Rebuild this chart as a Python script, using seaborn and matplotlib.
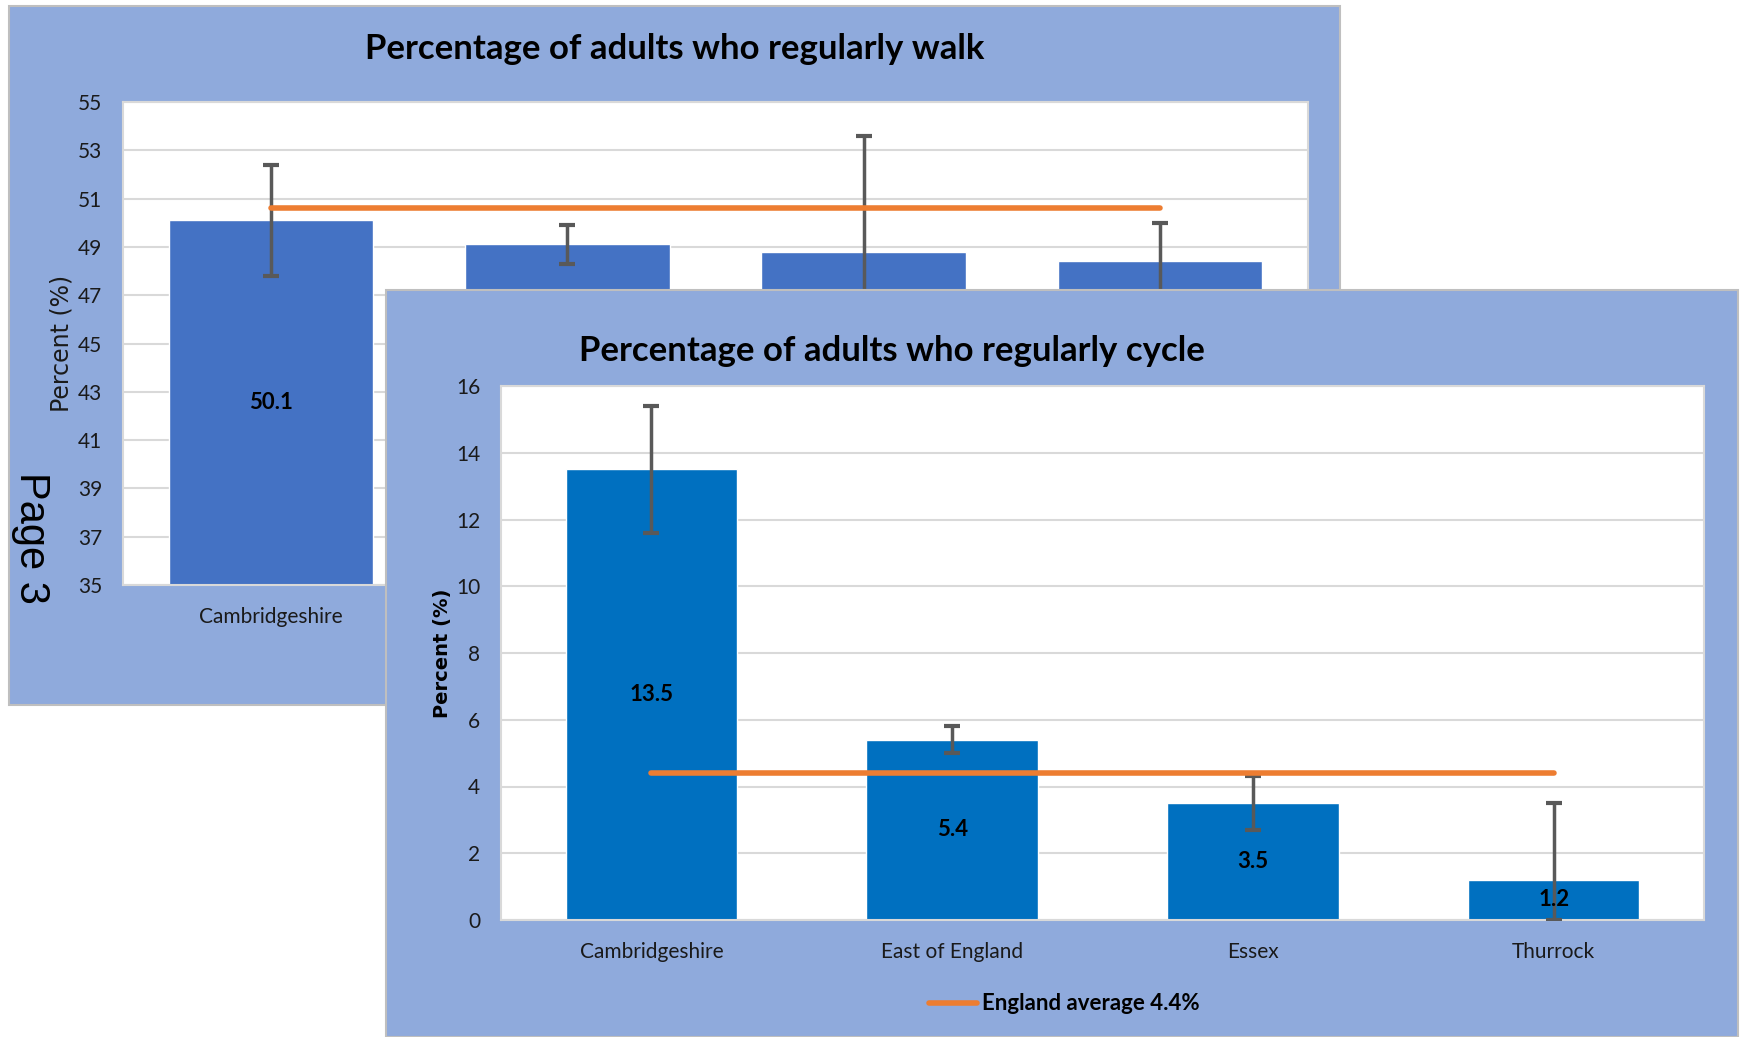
import matplotlib
matplotlib.use("Agg")
import matplotlib.pyplot as plt
import seaborn as sns
import numpy as np
from matplotlib.patches import Rectangle
from matplotlib.lines import Line2D

areas = ["Cambridgeshire", "East of England", "Essex", "Thurrock"]

# walking (back chart, mostly hidden)
walk_vals = [50.1, 49.1, 48.8, 48.4]
walk_lo = [47.8, 48.3, 44.0, 46.8]
walk_hi = [52.4, 49.9, 53.6, 50.0]
walk_avg = 50.6

# cycling (front chart)
cycle_vals = [13.5, 5.4, 3.5, 1.2]
cycle_lo = [11.6, 5.0, 2.7, 0.0]
cycle_hi = [15.4, 5.8, 4.3, 3.5]
cycle_avg = 4.4

W, H = 1741, 1037
panel_col = "#8FAADC"
grid_col = "#D9D9D9"
err_col = "#595959"
orange = "#ED7D31"

sns.set_theme(style="whitegrid")
plt.rcParams["font.family"] = ["Lato", "DejaVu Sans"]

fig = plt.figure(figsize=(W / 100, H / 100), dpi=100)
fig.patch.set_facecolor("white")


def fbox(x0, y0, x1, y1):
    # pixel box (top-left origin) -> figure fraction [l, b, w, h]
    return [x0 / W, 1 - y1 / H, (x1 - x0) / W, (y1 - y0) / H]


def draw_chart(ax, vals, lo, hi, avg, color, width):
    sns.barplot(x=areas, y=vals, color=color, saturation=1, width=width, ax=ax, zorder=2)
    pos = np.arange(len(areas))
    v = np.array(vals)
    yerr = [v - np.array(lo), np.array(hi) - v]
    ax.errorbar(pos, v, yerr=yerr, fmt="none", ecolor=err_col, elinewidth=2.5,
                capsize=6, capthick=3, zorder=3)
    ax.plot(pos, [avg] * len(pos), color=orange, lw=4, solid_capstyle="round", zorder=4)
    ax.set_xlim(-0.5, len(areas) - 0.5)
    ax.set_facecolor("white")
    ax.grid(axis="y", color=grid_col, lw=1.5)
    ax.grid(axis="x", visible=False)
    for s in ax.spines.values():
        s.set_color(grid_col)
        s.set_linewidth(1.5)
    ax.tick_params(axis="both", length=0, labelsize=15, colors="#1a1a1a")
    ax.tick_params(axis="y", pad=15)
    ax.tick_params(axis="x", pad=16)
    ax.set_xlabel("")


# back panel: walking
fig.add_artist(Rectangle((9 / W, 1 - 705 / H), (1340 - 9) / W, (705 - 6) / H,
                         transform=fig.transFigure, facecolor=panel_col,
                         edgecolor="#BFBFBF", lw=1.5, zorder=-1))
ax_w = fig.add_axes(fbox(123, 102, 1308, 585))
ax_w.set_zorder(0)
draw_chart(ax_w, walk_vals, walk_lo, walk_hi, walk_avg, "#4472C4", 0.69)
ax_w.set_ylim(35, 55)
ax_w.set_yticks(range(35, 56, 2))
ax_w.set_ylabel("Percent (%)", family="DejaVu Sans", fontsize=17, color="#1a1a1a")
ax_w.yaxis.set_label_coords(-0.042, 0.5)
for i, v in enumerate(walk_vals):
    ax_w.text(i, (35 + v) / 2, f"{v}", ha="center", va="center",
              fontsize=16, fontweight="bold", color="black", zorder=5)
fig.text(675 / W, 1 - 49 / H, "Percentage of adults who regularly walk",
         ha="center", va="center", fontsize=25, fontweight="bold", color="black")
fig.text(31 / W, 1 - 538 / H, "Page 3", rotation=-90, ha="center", va="center",
         family="Liberation Sans", fontsize=30, color="black", zorder=10)

# front panel: cycling
fig.add_artist(Rectangle((386 / W, 0), (1738 - 386) / W, (1037 - 290) / H,
                         transform=fig.transFigure, facecolor=panel_col,
                         edgecolor="#BFBFBF", lw=1.5, zorder=1))
ax_c = fig.add_axes(fbox(501, 386, 1704, 920))
ax_c.set_zorder(2)
draw_chart(ax_c, cycle_vals, cycle_lo, cycle_hi, cycle_avg, "#0070C0", 0.57)
ax_c.set_ylim(0, 16)
ax_c.set_yticks(range(0, 17, 2))
ax_c.set_ylabel("Percent (%)", family="DejaVu Sans", fontsize=14,
                fontweight="bold", color="black")
ax_c.yaxis.set_label_coords(-0.041, 0.5)
for i, v in enumerate(cycle_vals):
    ax_c.text(i, v / 2, f"{v}", ha="center", va="center",
              fontsize=16, fontweight="bold", color="black", zorder=5)
fig.text(892 / W, 1 - 351 / H, "Percentage of adults who regularly cycle",
         ha="center", va="center", fontsize=25, fontweight="bold", color="black",
         zorder=3)
handle = Line2D([], [], color=orange, lw=4)
leg = ax_c.legend([handle], ["England average 4.4%"], loc="center",
                  bbox_to_anchor=(0.468, -0.157), frameon=False, handlelength=2.2,
                  handletextpad=0.2, prop={"weight": "bold", "size": 16})
for t in leg.get_texts():
    t.set_color("black")

fig.savefig("out.png", dpi=100)
